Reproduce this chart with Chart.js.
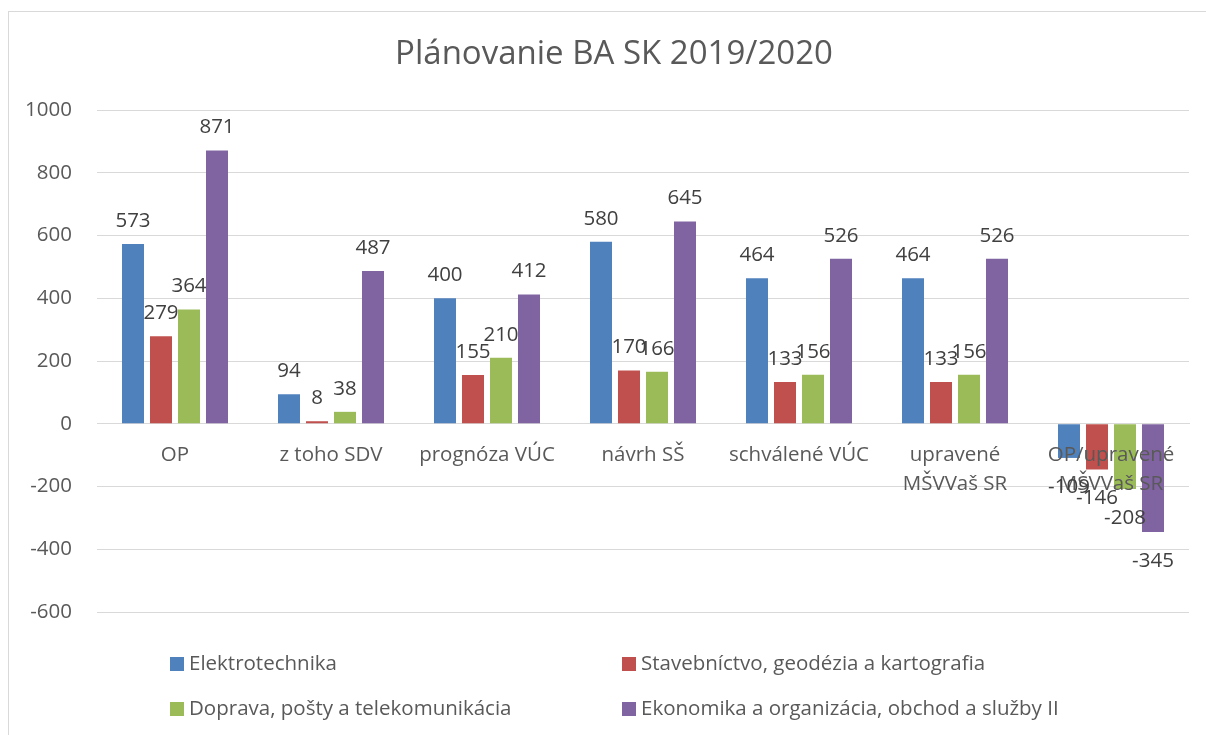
<!DOCTYPE html>
<html>
<head>
<meta charset="utf-8">
<script src="https://cdn.jsdelivr.net/npm/chart.js@4/dist/chart.umd.min.js"></script>
<style>
html,body{margin:0;padding:0;background:#fff;}
#wrap{position:relative;width:1206px;height:735px;}
</style>
</head>
<body>
<div id="wrap"><canvas id="c"></canvas></div>
<script>
const chartTitle = 'Plánovanie BA SK 2019/2020';
const categories = ['OP', 'z toho SDV', 'prognóza VÚC', 'návrh SŠ', 'schválené VÚC', ['upravené', 'MŠVVaš SR'], ['OP/upravené', 'MŠVVaš SR']];
const seriesNames = ['Elektrotechnika', 'Stavebníctvo, geodézia a kartografia', 'Doprava, pošty a telekomunikácia', 'Ekonomika a organizácia, obchod a služby II'];
const elektrotechnika = [573, 94, 400, 580, 464, 464, -109];
const stavebnictvo = [279, 8, 155, 170, 133, 133, -146];
const doprava = [364, 38, 210, 166, 156, 156, -208];
const ekonomika = [871, 487, 412, 645, 526, 526, -345];
const seriesColors = ['#4F81BD', '#C0504D', '#9BBB59', '#8064A2'];
const yMin = -600, yMax = 1000, yStep = 200;

const FONT = '"Open Sans", "DejaVu Sans", sans-serif';
const FS = 20.5;

const framePlugin = {
  id: 'frame',
  beforeDraw(chart) {
    const ctx = chart.ctx;
    ctx.save();
    ctx.fillStyle = '#ffffff';
    ctx.fillRect(0, 0, chart.width, chart.height);
    ctx.strokeStyle = '#d9d9d9';
    ctx.lineWidth = 1;
    ctx.strokeRect(8.5, 11.5, chart.width + 20, chart.height + 20);
    ctx.fillStyle = '#595959';
    ctx.font = '33px ' + FONT;
    ctx.textAlign = 'center';
    ctx.textBaseline = 'middle';
    ctx.fillText(chartTitle, 614, 55);
    ctx.restore();
  }
};

const labelPlugin = {
  id: 'valueLabels',
  afterDraw(chart) {
    const ctx = chart.ctx;
    ctx.save();
    ctx.fillStyle = '#404040';
    ctx.font = FS + 'px ' + FONT;
    ctx.textAlign = 'center';
    ctx.textBaseline = 'middle';
    chart.data.datasets.forEach((ds, i) => {
      const meta = chart.getDatasetMeta(i);
      meta.data.forEach((bar, j) => {
        const v = ds.data[j];
        const y = v >= 0 ? bar.y - 23 : bar.y + 29;
        ctx.fillText(String(v), bar.x, y);
      });
    });
    ctx.restore();
  }
};

const legendPlugin = {
  id: 'customLegend',
  afterDraw(chart) {
    const ctx = chart.ctx;
    const pos = [[170, 664], [622, 664], [170, 709], [622, 709]];
    ctx.save();
    ctx.font = FS + 'px ' + FONT;
    ctx.textAlign = 'left';
    ctx.textBaseline = 'middle';
    chart.data.datasets.forEach((ds, i) => {
      const [x, y] = pos[i];
      ctx.fillStyle = ds.backgroundColor;
      ctx.fillRect(x, y - 7, 14, 14);
      ctx.fillStyle = '#595959';
      ctx.fillText(ds.label, x + 19, y);
    });
    ctx.restore();
  }
};

const seriesData = [elektrotechnika, stavebnictvo, doprava, ekonomika];

new Chart(document.getElementById('c'), {
  type: 'bar',
  data: {
    labels: categories,
    datasets: seriesNames.map((n, i) => ({
      label: n,
      data: seriesData[i],
      backgroundColor: seriesColors[i],
      borderWidth: 0,
      categoryPercentage: 0.718,
      barPercentage: 0.786
    }))
  },
  options: {
    responsive: true,
    maintainAspectRatio: false,
    animation: false,
    layout: { padding: { left: 0, top: 110, right: 17, bottom: 123 } },
    plugins: {
      legend: { display: false },
      title: { display: false },
      tooltip: { enabled: false }
    },
    scales: {
      x: {
        position: { y: 0 },
        grid: { display: false, drawTicks: false },
        border: { display: true, color: '#d9d9d9', width: 1 },
        ticks: {
          z: 1,
          color: '#595959',
          font: { family: FONT, size: FS, lineHeight: 1.42 },
          padding: 17,
          maxRotation: 0,
          autoSkip: false
        }
      },
      y: {
        min: yMin,
        max: yMax,
        afterFit(scale) { scale.width = 97; },
        grid: { color: '#d9d9d9', lineWidth: 1, drawTicks: false },
        border: { display: false },
        ticks: {
          stepSize: yStep,
          color: '#595959',
          font: { family: FONT, size: FS },
          padding: 25,
          callback: (v) => String(v)
        }
      }
    }
  },
  plugins: [framePlugin, labelPlugin, legendPlugin]
});
</script>
</body>
</html>
